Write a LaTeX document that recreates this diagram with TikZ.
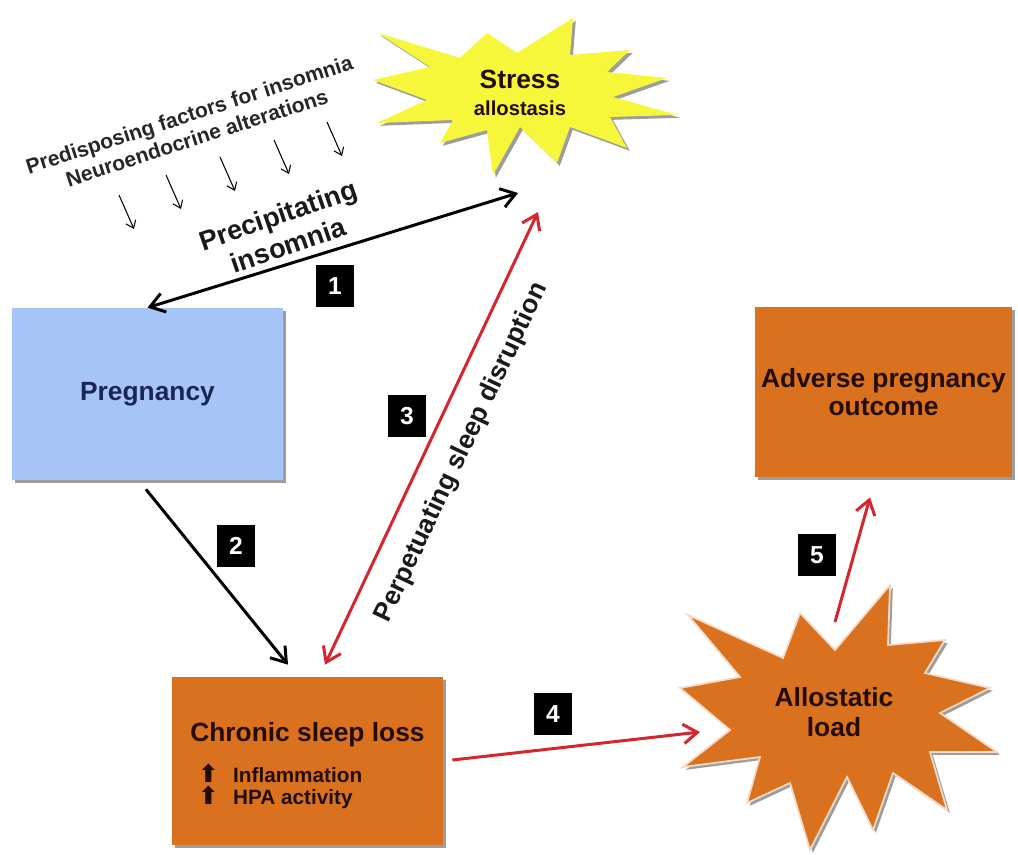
\documentclass[tikz,border=0pt]{standalone}
\usepackage{fontspec}
\setmainfont{Liberation Sans}
\newfontfamily\symfont{DejaVu Sans}
\usetikzlibrary{arrows.meta, calc, positioning, shadows}

\definecolor{pregblue}{RGB}{166,196,245}
\definecolor{boxorange}{RGB}{217,113,31}
\definecolor{stressyellow}{RGB}{246,246,58}
\definecolor{arrowred}{RGB}{212,38,44}
\definecolor{navytext}{RGB}{27,38,84}
\definecolor{browntext}{RGB}{35,12,2}

\newcommand{\uparr}{\makebox[16pt][l]{\symfont\fontsize{14}{14}\selectfont ⬆}}

\tikzset{
  softshadow/.style={drop shadow={shadow xshift=1.6pt, shadow yshift=-1.6pt, fill=black!70, opacity=.55}},
  pregbox/.style={rectangle, fill=pregblue, softshadow, minimum width=5.42cm, minimum height=3.44cm,
    font=\bfseries\fontsize{15}{18}\selectfont, text=navytext, align=center},
  orangebox/.style={rectangle, fill=boxorange, softshadow, text=browntext, align=center,
    font=\bfseries\fontsize{15}{16}\selectfont},
  listtext/.style={anchor=west, inner sep=0pt, text=browntext, font=\bfseries\fontsize{11.8}{13}\selectfont},
  numtag/.style={rectangle, fill=black, text=white, font=\bfseries\fontsize{14}{16}\selectfont,
    minimum width=0.76cm, minimum height=0.84cm, inner sep=0pt},
  blackline/.style={draw=black, line width=1.7pt},
  redline/.style={draw=arrowred, line width=1.7pt},
  smallarrow/.style={draw=black, line width=0.6pt, -{Straight Barb[length=4pt,width=6pt]}},
}

\begin{document}
\begin{tikzpicture}[x=0.02cm, y=-0.02cm, >={Straight Barb[length=8pt,width=11pt]}]
  \useasboundingbox (0,0) rectangle (1018,855);

  % stars
  \path[fill=stressyellow, softshadow] (378,33) -- (460,58) -- (487,33) -- (517,53) -- (573,18)
    -- (570,55) -- (630,50) -- (607,72) -- (667,78) -- (613,97) -- (677,115) -- (610,117)
    -- (627,148) -- (570,127) -- (557,163) -- (520,127) -- (493,175) -- (487,130) -- (440,143)
    -- (453,120) -- (377,123) -- (427,100) -- (373,80) -- (430,67) -- cycle;
  \path[fill=boxorange, draw=white!75!boxorange, line width=1pt, softshadow] (688,615) -- (783,658)
    -- (800,613) -- (835,650) -- (890,585) -- (888,645) -- (945,640) -- (925,673) -- (990,688)
    -- (940,713) -- (997,752) -- (930,752) -- (947,810) -- (893,773) -- (873,830) -- (847,777)
    -- (810,850) -- (790,783) -- (747,803) -- (760,757) -- (683,767) -- (730,730) -- (680,688)
    -- (740,677) -- cycle;

  \node[align=center, text=browntext, font=\bfseries\fontsize{11.5}{15.5}\selectfont] (stress) at (520,93)
    {{\fontsize{15}{15.5}\selectfont Stress}\\allostasis};
  \node[align=center, text=browntext, font=\bfseries\fontsize{15}{17}\selectfont] (load) at (834,712)
    {Allostatic\\load};

  % boxes
  \node[pregbox] (preg) at (147.5,394) {Pregnancy};
  \node[orangebox, minimum width=5.42cm, minimum height=3.36cm] (sleep) at (307.5,761) {};
  \node[orangebox, minimum width=5.14cm, minimum height=3.4cm] (outcome) at (883.5,392)
    {Adverse pregnancy\\outcome};

  \node[text=browntext, font=\bfseries\fontsize{15}{16}\selectfont] (sleeptitle) at ($(sleep.north)+(0,58)$)
    {Chronic sleep loss};
  \node[listtext] (infl) at ($(sleep.west)+(26,12)$) {\uparr\hspace{4pt}Inflammation};
  \node[listtext] (hpa) at ($(sleep.west)+(26,36)$) {\uparr\hspace{4pt}HPA activity};

  % texts on the left
  \node[rotate=18, align=center, font=\bfseries\fontsize{12}{14}\selectfont, text=black!85] (factors) at (193,126)
    {Predisposing factors for insomnia\\Neuroendocrine alterations};
  \node[rotate=19, align=center, font=\bfseries\fontsize{15.5}{18}\selectfont, text=black!90] (precip) at (283,230)
    {Precipitating\\insomnia};
  \foreach \x/\y in {119/195, 166/175, 220/157, 274/140, 327/122}
    \draw[smallarrow] (\x,\y) -- ++(15,34);

  % connectors
  \coordinate (stressin) at (518,193);
  \coordinate (stressred) at (538,212);
  \coordinate (loadin) at (700,732);
  \coordinate (loadout) at (835,622);

  \draw[blackline, <->] (preg.north) -- (stressin);
  \draw[blackline, ->] ($(preg.south)+(-1.5,9)$) -- ($(sleep.north)+(-19.5,-12)$);
  \draw[redline, <->] ($(sleep.north)+(17.5,-12)$) -- node[midway, sloped, below=8pt, text=black!90,
    font=\bfseries\fontsize{15}{16}\selectfont] (perpet) {Perpetuating sleep disruption} (stressred);
  \draw[redline, ->] ($(sleep.east)+(9,-1)$) -- (loadin);
  \draw[redline, ->] (loadout) -- ($(outcome.south)+(-13.5,20)$);

  % step numbers
  \node[numtag] (n1) at (335,286) {1};
  \node[numtag] (n2) at (236,546) {2};
  \node[numtag] (n3) at (407,416) {3};
  \node[numtag] (n4) at (553,714) {4};
  \node[numtag] (n5) at (817,555) {5};
\end{tikzpicture}
\end{document}
